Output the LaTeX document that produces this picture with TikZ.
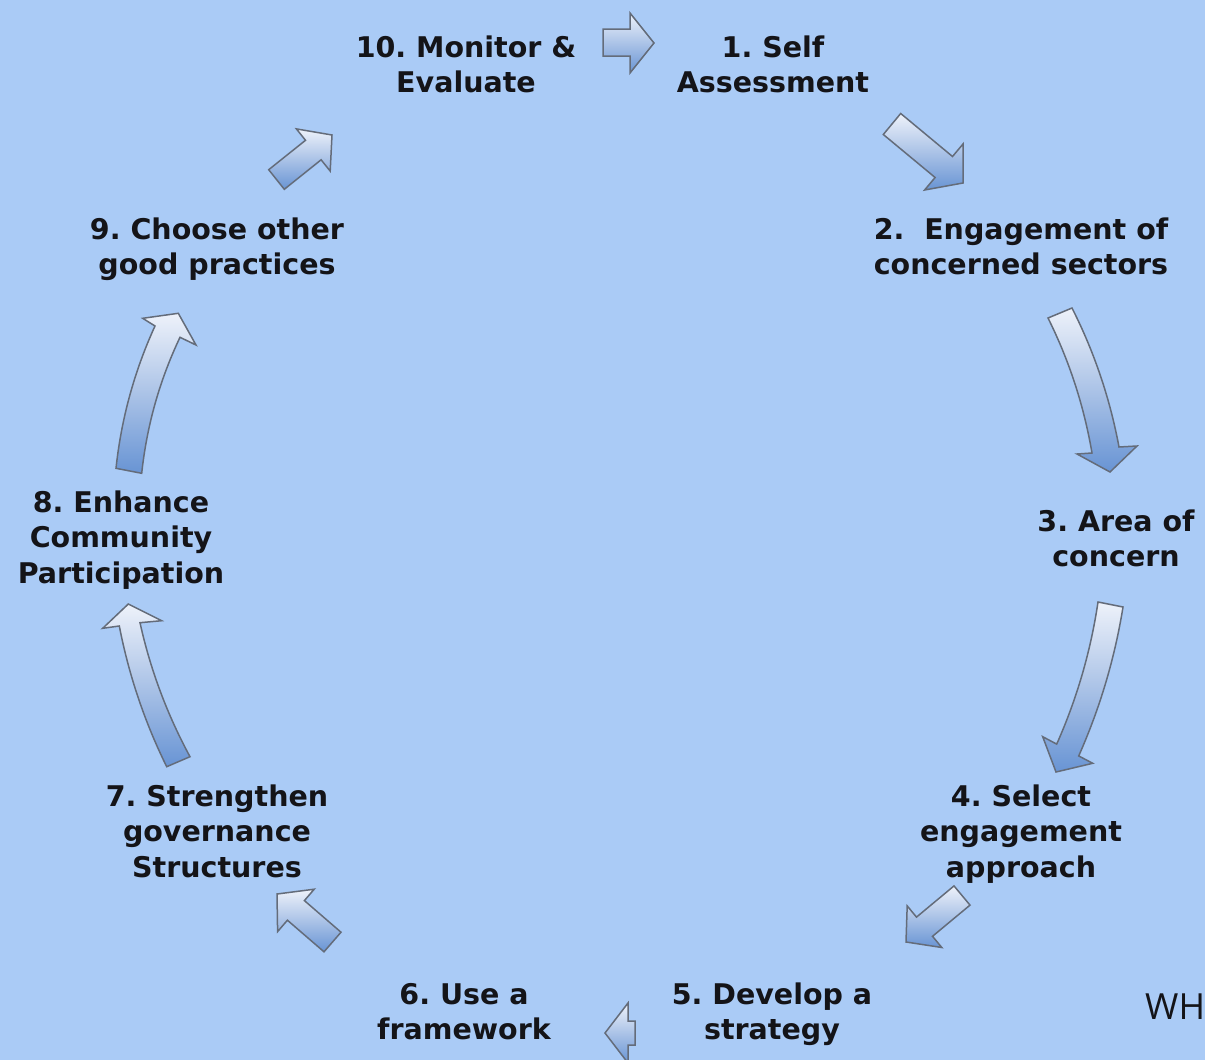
\documentclass[tikz,border=0pt]{standalone}
\usepackage{fontspec}
\setmainfont{DejaVu Sans}
\newfontfamily\whfont{Open Sans}
\definecolor{bgblue}{RGB}{170,203,246}
\definecolor{arrowtop}{RGB}{238,242,250}
\definecolor{arrowbot}{RGB}{104,148,212}
\definecolor{arrowline}{RGB}{100,108,122}
\definecolor{textcol}{RGB}{20,20,24}
\frenchspacing
\begin{document}
\begin{tikzpicture}[x=1pt,y=-1pt,
  blockarrow/.style={draw=arrowline, line width=1.5pt, line join=miter,
    top color=arrowtop, bottom color=arrowbot},
  lbl/.style={font=\fontsize{28.5}{35.5}\selectfont\bfseries, text=textcol,
    inner sep=0pt, anchor=base}]
\useasboundingbox (0,0) rectangle (1205,1060);
\fill[bgblue] (0,0) rectangle (1205,1060);
\begin{scope}
\clip (0,0) rectangle (1205,1060);
% 10 -> 1
\path[blockarrow] (603,29) -- (630,29) -- (630,13) -- (654,43) -- (630,73) -- (630,56) -- (603,56) -- cycle;
% 1 -> 2
\path[blockarrow] (883.3,134.5) -- (900.7,113.5) -- (952.5,156.5) -- (963,144) -- (963,183) -- (924.6,190) -- (935.1,177.5) -- cycle;
% 2 -> 3
\path[blockarrow] (1048,318) .. controls (1069.3,360.8) and (1083.9,405.8) .. (1092,453) -- (1077,454) -- (1110,472) -- (1137,446) -- (1119,447) .. controls (1109.9,398.4) and (1094.3,352.1) .. (1072,308) -- cycle;
% 3 -> 4
\path[blockarrow] (1098,602) .. controls (1090.7,651.2) and (1076.9,698.6) .. (1056.7,744.1) -- (1042.7,736.7) -- (1056,772) -- (1092.7,763.3) -- (1078.7,755.9) .. controls (1099.9,708.2) and (1114.7,658.5) .. (1123,607) -- cycle;
% 4 -> 5
\path[blockarrow] (954,885.9) -- (970,905.1) -- (932.5,936.3) -- (941.8,947.5) -- (906,942) -- (907.2,905.9) -- (916.5,917.1) -- cycle;
% 5 -> 6
\path[blockarrow] (635,1021) -- (628,1021) -- (628,1003) -- (605,1033) -- (628,1063) -- (628,1045) -- (635,1045) -- cycle;
% 6 -> 7
\path[blockarrow] (324,951.8) -- (341,932.2) -- (304.4,900.6) -- (314.2,889.2) -- (277,894) -- (277.6,931.6) -- (287.4,920.2) -- cycle;
% 7 -> 8
\path[blockarrow] (166.7,766.7) .. controls (144.6,721.9) and (128.8,675.0) .. (119.3,626) -- (102.7,628.3) -- (128.3,604) -- (161.7,620.7) -- (140,622.7) .. controls (150.4,669.7) and (167.1,714.4) .. (190,756.7) -- cycle;
% 8 -> 9
\path[blockarrow] (116,468.3) .. controls (121.3,418.8) and (134.3,371.3) .. (155,326) -- (142.7,318.3) -- (178.3,313.3) -- (196,345) -- (180,337.3) .. controls (159.5,380.5) and (146.8,425.8) .. (141.7,473.3) -- cycle;
% 9 -> 10
\path[blockarrow] (268.7,169.7) -- (305.5,140.3) -- (296.4,128.9) -- (332,135) -- (330.2,171.1) -- (321.1,159.8) -- (284.3,189.3) -- cycle;
\end{scope}
% labels
\node[lbl] (s10) at (466,57) {\begin{tabular}[t]{@{}c@{}}10. Monitor \&\\Evaluate\end{tabular}};
\node[lbl] (s1) at (773,57) {\begin{tabular}[t]{@{}c@{}}1. Self\\Assessment\end{tabular}};
\node[lbl] (s2) at (1021,239) {\begin{tabular}[t]{@{}c@{}}2.~ Engagement of\\concerned sectors\end{tabular}};
\node[lbl] (s3) at (1116,531) {\begin{tabular}[t]{@{}c@{}}3. Area of\\concern\end{tabular}};
\node[lbl] (s4) at (1021,806) {\begin{tabular}[t]{@{}c@{}}4. Select\\engagement\\approach\end{tabular}};
\node[lbl] (s5) at (772,1004) {\begin{tabular}[t]{@{}c@{}}5. Develop a\\strategy\end{tabular}};
\node[lbl] (s6) at (464,1004) {\begin{tabular}[t]{@{}c@{}}6. Use a\\framework\end{tabular}};
\node[lbl] (s7) at (217,806) {\begin{tabular}[t]{@{}c@{}}7. Strengthen\\governance\\Structures\end{tabular}};
\node[lbl] (s8) at (121,512) {\begin{tabular}[t]{@{}c@{}}8. Enhance\\Community\\Participation\end{tabular}};
\node[lbl] (s9) at (217,239) {\begin{tabular}[t]{@{}c@{}}9. Choose other\\good practices\end{tabular}};
\node[anchor=base west, inner sep=0pt, font=\whfont\fontsize{36}{40}\selectfont, text=textcol] (wh) at (1145,1019) {WH};
\end{tikzpicture}
\end{document}
